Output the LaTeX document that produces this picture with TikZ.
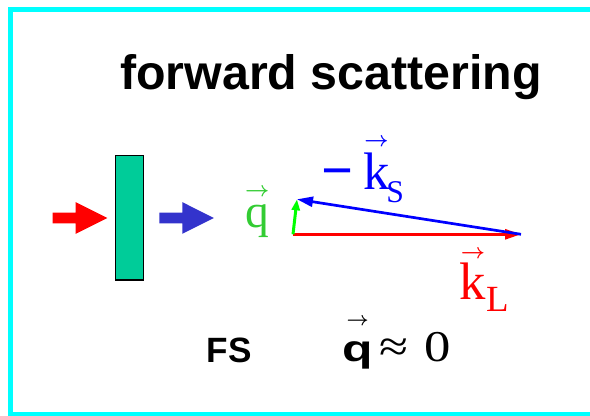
\documentclass[tikz,border=0pt]{standalone}
\usepackage{fontspec}
\setmainfont{Liberation Serif}
\setsansfont{Liberation Sans}
\newfontfamily\symfont{Liberation Serif}
\newfontfamily\widesymfont[FakeStretch=1.2]{Liberation Serif}
\newfontfamily\boldqfont[FakeStretch=1.35]{Liberation Sans}
\usetikzlibrary{arrows.meta,positioning}

\definecolor{frame cyan}{RGB}{0,255,255}
\definecolor{slab green}{RGB}{0,204,153}
\definecolor{beam blue}{RGB}{51,51,204}
\definecolor{label green}{RGB}{51,204,51}
\definecolor{vector green}{RGB}{0,255,0}

% small arrow over a letter: letter, raise, size
\newcommand{\arrowon}[3]{%
  \ooalign{#1\cr\hidewidth\raisebox{#2}{\fontsize{#3}{#3}\selectfont\boldmath$\rightarrow$}\hidewidth\cr}}

\tikzset{
    fs diagram/.style  = {>={Triangle[length=3.2mm, width=2mm]}},
    frame/.style       = {draw=frame cyan, line width=0.09cm},
    slab/.style        = {draw, line width=0.03cm, fill=slab green, inner sep=0pt,
                          minimum width=0.56cm, minimum height=2.49cm},
    vector/.style      = {->, line width=0.054cm},
    short vector/.style = {-{Triangle[length=2.2mm, width=1.6mm]}, line width=0.06cm},
    title/.style       = {font=\sffamily\bfseries\fontsize{27.5}{33}\selectfont,
                          inner sep=0pt, anchor=base},
    tag/.style         = {font=\sffamily\bfseries\fontsize{20}{24}\selectfont,
                          inner sep=0pt, anchor=base},
    sym/.style         = {font=\symfont\fontsize{30}{36}\selectfont,
                          inner sep=0pt, anchor=base west},
    pics/block arrow/.style = {code={
        \fill[#1] (0,-0.106) -- (0.46,-0.106) -- (0.46,-0.317) -- (1.092,0)
                  -- (0.46,0.317) -- (0.46,0.106) -- (0,0.106) -- cycle;}}
}

\begin{document}
\begin{tikzpicture}[fs diagram]
\useasboundingbox (0,0) rectangle (11.8,8.32);

% ================= Frame and title =================
\draw[frame] (11.9,8.13) -- (0.21,8.13) -- (0.21,0.03) -- (11.9,0.03);
\node[title] (title) at (6.62,6.534) {forward scattering};

% ================= Sample and beams =================
\node[slab] (slab) at (2.59,3.96) {};
\pic (beam in)  at (1.054,3.96) {block arrow=red};
\pic (beam out) at (3.186,3.96) {block arrow=beam blue};

% ================= Wave vector triangle =================
\coordinate (origin) at (5.86,3.634);
\coordinate (kL tip) at (10.42,3.634);
\coordinate (q tip)  at (5.94,4.334);
\draw[vector, red] (origin) -- (kL tip);
\draw[vector, blue] (kL tip) -- (q tip);
\draw[short vector, vector green] (origin) -- (q tip);

\node[sym, label green, font=\symfont\fontsize{27}{32}\selectfont] (q)
    at (4.9,3.77) {\arrowon{q}{0.61cm}{11.5pt}};
\node[sym, blue] (kS) at (6.42,4.52)
    {\fontsize{32}{36}\selectfont\bfseries −\mdseries\fontsize{30}{36}\selectfont
     \hspace{0.2cm}\arrowon{k}{0.86cm}{12.5pt}\hspace{-0.07cm}%
     \raisebox{-0.254cm}{\fontsize{18}{18}\selectfont S}};
\node[sym, red] (kL) at (9.19,2.32)
    {\arrowon{k}{0.82cm}{12pt}%
     \raisebox{-0.24cm}{\fontsize{21}{21}\selectfont L}};

% ================= Caption =================
\node[tag] (fs) at (4.584,1.06) {FS};
\node[sym] (relation) at (6.84,1.086)
    {\arrowon{\boldqfont\bfseries\fontsize{21}{21}\selectfont q}{0.73cm}{11pt}%
     \hspace{0.13cm}{\widesymfont\fontsize{25}{25}\selectfont ≈\hspace{0.32cm}0}};

\end{tikzpicture}
\end{document}
